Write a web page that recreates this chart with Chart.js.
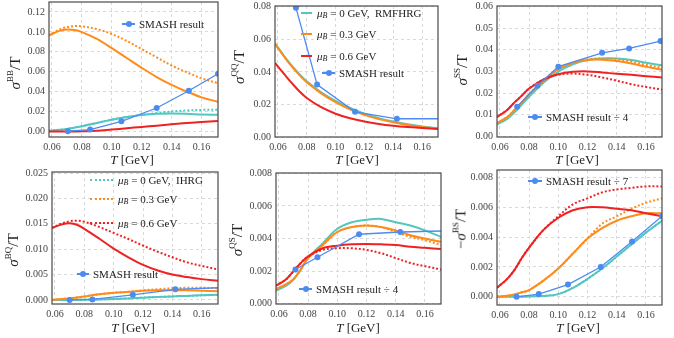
<!DOCTYPE html>
<html>
<head>
<meta charset="utf-8">
<script src="https://cdn.jsdelivr.net/npm/chart.js@4.4.0/dist/chart.umd.min.js"></script>
<style>
  body { margin: 0; background: #fff; width: 674px; height: 338px; position: relative; overflow: hidden;
         font-family: 'Liberation Serif', 'Times New Roman', serif; color: #222; }
  canvas { position: absolute; }
  .yt { position: absolute; transform: translate(-50%, -50%) rotate(-90deg); font-size: 15px; white-space: nowrap; }
  .xt { position: absolute; transform: translate(-50%, -50%); font-size: 13px; white-space: nowrap; }
  .sp { font-size: 9px; position: relative; top: -7px; }
  .lg { position: absolute; transform: translateY(-50%); font-size: 11px; white-space: nowrap; display: flex; align-items: center; }
  .lg sub { font-size: 8px; position: relative; top: 2px; vertical-align: baseline; }
  .ln { display: inline-block; height: 0; border-top-width: 2px; border-top-style: solid; margin-right: 5px; }
  .dt { border-top-style: dotted; }
  .sm { display: inline-block; position: relative; height: 1.5px; background: #4d8bf0; margin-right: 4px; }
  .sm::after { content: ''; position: absolute; left: 50%; top: 50%; width: 6px; height: 6px; border-radius: 50%;
               background: #4d8bf0; transform: translate(-50%, -50%); }
</style>
</head>
<body>
<div id="wrap"></div>

<!-- axis titles -->
<div class="yt" style="left:15px;top:73px"><i>σ</i><span class="sp">BB</span>/T</div>
<div class="yt" style="left:239px;top:67px"><i>σ</i><span class="sp">QQ</span>/T</div>
<div class="yt" style="left:462px;top:70px"><i>σ</i><span class="sp">SS</span>/T</div>
<div class="yt" style="left:13px;top:250px"><i>σ</i><span class="sp">BQ</span>/T</div>
<div class="yt" style="left:237px;top:240px"><i>σ</i><span class="sp">QS</span>/T</div>
<div class="yt" style="left:461px;top:229px">−<i>σ</i><span class="sp">BS</span>/T</div>

<div class="xt" style="left:132px;top:160px"><i>T</i> [GeV]</div>
<div class="xt" style="left:357px;top:160px"><i>T</i> [GeV]</div>
<div class="xt" style="left:577px;top:160px"><i>T</i> [GeV]</div>
<div class="xt" style="left:133px;top:328px"><i>T</i> [GeV]</div>
<div class="xt" style="left:358px;top:328px"><i>T</i> [GeV]</div>
<div class="xt" style="left:578px;top:328px"><i>T</i> [GeV]</div>

<!-- legends -->
<div class="lg" style="left:122px;top:24px"><span class="sm" style="width:13px"></span>SMASH result</div>

<div class="lg" style="left:301px;top:13px"><span class="ln" style="width:11px;border-color:#52c7c0"></span><i>μ</i><sub><i>B</i></sub>&nbsp;= 0 GeV,&nbsp; RMFHRG</div>
<div class="lg" style="left:301px;top:34px"><span class="ln" style="width:11px;border-color:#ff8c1a"></span><i>μ</i><sub><i>B</i></sub>&nbsp;= 0.3 GeV</div>
<div class="lg" style="left:301px;top:56px"><span class="ln" style="width:11px;border-color:#ee2222"></span><i>μ</i><sub><i>B</i></sub>&nbsp;= 0.6 GeV</div>
<div class="lg" style="left:322px;top:73px"><span class="sm" style="width:13px"></span>SMASH result</div>

<div class="lg" style="left:528px;top:117px"><span class="sm" style="width:14px"></span>SMASH result ÷ 4</div>

<div class="lg" style="left:90px;top:180px"><span class="ln dt" style="width:23px;border-color:#52c7c0"></span><i>μ</i><sub><i>B</i></sub>&nbsp;= 0 GeV,&nbsp; IHRG</div>
<div class="lg" style="left:90px;top:199px"><span class="ln dt" style="width:23px;border-color:#ff8c1a"></span><i>μ</i><sub><i>B</i></sub>&nbsp;= 0.3 GeV</div>
<div class="lg" style="left:90px;top:223px"><span class="ln dt" style="width:23px;border-color:#ee2222"></span><i>μ</i><sub><i>B</i></sub>&nbsp;= 0.6 GeV</div>
<div class="lg" style="left:77px;top:274px"><span class="sm" style="width:12px"></span>SMASH result</div>

<div class="lg" style="left:299px;top:289px"><span class="sm" style="width:13px"></span>SMASH result ÷ 4</div>
<div class="lg" style="left:528px;top:181px"><span class="sm" style="width:14px"></span>SMASH result ÷ 7</div>

<script>
// temperature grid of the model curves (GeV)
const T = [0.058, 0.065, 0.07, 0.075, 0.08, 0.09, 0.10, 0.11, 0.12, 0.13, 0.14, 0.15, 0.16, 0.171];
const xTicks = [0.06, 0.08, 0.10, 0.12, 0.14, 0.16];

// sigma_BB / T
const bbCyan      = [0.0007, 0.0017, 0.0026, 0.0039, 0.0053, 0.0086, 0.0119, 0.0145, 0.0165, 0.0178, 0.0181, 0.0178, 0.0171, 0.0168];
const bbCyanDot   = [0.0007, 0.0017, 0.0026, 0.0039, 0.0053, 0.0086, 0.0119, 0.0145, 0.0168, 0.0185, 0.0201, 0.0211, 0.0217, 0.0218];
const bbOrange    = [0.0965, 0.1010, 0.1023, 0.1018, 0.0998, 0.0929, 0.0837, 0.0738, 0.0639, 0.0547, 0.0468, 0.0402, 0.0343, 0.0298];
const bbOrangeDot = [0.0965, 0.1025, 0.1048, 0.1058, 0.1056, 0.1028, 0.0979, 0.0909, 0.0827, 0.0745, 0.0662, 0.0596, 0.0534, 0.0485];
const bbRed       = [0.0000, 0.0000, 0.0000, 0.0001, 0.0002, 0.0007, 0.0020, 0.0033, 0.0046, 0.0059, 0.0072, 0.0086, 0.0096, 0.0106];
const smashBBT = [0.0706, 0.0855, 0.1064, 0.1300, 0.1515, 0.1710];
const smashBB  = [0.0003, 0.0020, 0.0102, 0.0236, 0.0409, 0.0580];
const bbTicks = [0, 0.02, 0.04, 0.06, 0.08, 0.10, 0.12];

// sigma_QQ / T
const qqCyan   = [0.0575, 0.0490, 0.0435, 0.0385, 0.0342, 0.0275, 0.0222, 0.0178, 0.0143, 0.0116, 0.0095, 0.0078, 0.0065, 0.0054];
const qqOrange = [0.0572, 0.0485, 0.0430, 0.0380, 0.0336, 0.0268, 0.0214, 0.0170, 0.0136, 0.0110, 0.0090, 0.0074, 0.0062, 0.0052];
const qqRed    = [0.0455, 0.0380, 0.0328, 0.0280, 0.0240, 0.0183, 0.0143, 0.0115, 0.0095, 0.0080, 0.0069, 0.0061, 0.0055, 0.0049];
const smashQQT = [0.0725, 0.0872, 0.1135, 0.1425, 0.171];
const smashQQ  = [0.0795, 0.0322, 0.0155, 0.0112, 0.0112];
const qqTicks = [0, 0.02, 0.04, 0.06, 0.08];

// sigma_SS / T
const ssCyan      = [0.0055, 0.0081, 0.0111, 0.0147, 0.0183, 0.0249, 0.0299, 0.0333, 0.0353, 0.0360, 0.0360, 0.0353, 0.0340, 0.0328];
const ssOrange    = [0.0061, 0.0089, 0.0122, 0.0157, 0.0195, 0.0257, 0.0310, 0.0340, 0.0353, 0.0354, 0.0348, 0.0336, 0.0322, 0.0307];
const ssOrangeDot = [0.0061, 0.0089, 0.0122, 0.0157, 0.0195, 0.0257, 0.0310, 0.0340, 0.0356, 0.0360, 0.0356, 0.0345, 0.0330, 0.0317];
const ssRed       = [0.0089, 0.0122, 0.0157, 0.0188, 0.0221, 0.0263, 0.0287, 0.0298, 0.0300, 0.0295, 0.0289, 0.0284, 0.0278, 0.0272];
const ssRedDot    = [0.0089, 0.0122, 0.0157, 0.0188, 0.0221, 0.0263, 0.0285, 0.0290, 0.0284, 0.0272, 0.0257, 0.0241, 0.0228, 0.0216];
const smashSST = [0.0718, 0.0857, 0.1000, 0.1300, 0.1485, 0.1700];
const smashSS  = [0.0137, 0.0234, 0.0322, 0.0386, 0.0406, 0.0440];
const ssTicks = [0, 0.01, 0.02, 0.03, 0.04, 0.05, 0.06];

// sigma_BQ / T
const bqCyan      = [0.0000, 0.0000, 0.0000, 0.00002, 0.00005, 0.0001, 0.0002, 0.0003, 0.00045, 0.00058, 0.0007, 0.0008, 0.0009, 0.0010];
const bqOrange    = [0.0000, 0.0002, 0.0003, 0.0005, 0.0007, 0.0011, 0.0014, 0.0016, 0.0018, 0.0019, 0.0019, 0.0019, 0.0018, 0.0017];
const bqOrangeDot = [0.0000, 0.0002, 0.0003, 0.0005, 0.0007, 0.0011, 0.0014, 0.0016, 0.0019, 0.0021, 0.0023, 0.0024, 0.0024, 0.0023];
const bqRed       = [0.0142, 0.0149, 0.0151, 0.0148, 0.0140, 0.0121, 0.0101, 0.0084, 0.0069, 0.0058, 0.0050, 0.0045, 0.0041, 0.0038];
const bqRedDot    = [0.0142, 0.0151, 0.0155, 0.0156, 0.0154, 0.0144, 0.0132, 0.0120, 0.0107, 0.0095, 0.0084, 0.0074, 0.0067, 0.0060];
const smashBQT = [0.0700, 0.0855, 0.1130, 0.1420, 0.171];
const smashBQ  = [0.0000, 0.0001, 0.0010, 0.0021, 0.0024];
const bqTicks = [0, 0.005, 0.010, 0.015, 0.020, 0.025];

// sigma_QS / T
const qsCyan      = [0.0008, 0.0011, 0.0015, 0.0021, 0.0028, 0.0037, 0.0046, 0.0050, 0.00515, 0.0052, 0.0050, 0.0048, 0.0045, 0.0041];
const qsOrange    = [0.0009, 0.0012, 0.0015, 0.0021, 0.0028, 0.0036, 0.0044, 0.0047, 0.0048, 0.0047, 0.0045, 0.0042, 0.0040, 0.0038];
const qsOrangeDot = [0.0009, 0.0012, 0.0015, 0.0021, 0.0028, 0.0036, 0.0044, 0.0047, 0.0048, 0.0047, 0.0044, 0.0041, 0.0039, 0.0036];
const qsRed       = [0.0011, 0.0015, 0.0020, 0.0025, 0.0029, 0.0034, 0.00356, 0.00364, 0.00366, 0.00364, 0.0036, 0.0035, 0.00343, 0.00335];
const qsRedDot    = [0.0011, 0.0015, 0.0020, 0.0025, 0.0029, 0.0033, 0.0034, 0.0034, 0.0033, 0.0031, 0.0028, 0.0025, 0.0023, 0.0021];
const smashQST = [0.0713, 0.0864, 0.1149, 0.1431, 0.171];
const smashQS  = [0.0021, 0.00285, 0.00426, 0.0044, 0.00446];
const qsTicks = [0, 0.002, 0.004, 0.006, 0.008];

// -sigma_BS / T
const bsCyan      = [0.0000, 0.0000, 0.0000, 0.0000, 0.00002, 0.00006, 0.00018, 0.0006, 0.0012, 0.0019, 0.0027, 0.0035, 0.0043, 0.0051];
const bsOrange    = [0.0000, 0.00007, 0.00016, 0.0003, 0.00045, 0.0011, 0.0019, 0.0029, 0.0039, 0.0046, 0.0051, 0.0054, 0.0056, 0.0056];
const bsOrangeDot = [0.0000, 0.00007, 0.00016, 0.0003, 0.00045, 0.0011, 0.0019, 0.0029, 0.0039, 0.0049, 0.0054, 0.0059, 0.0063, 0.0066];
const bsRed       = [0.0006, 0.0012, 0.0018, 0.0026, 0.0033, 0.0045, 0.0053, 0.0058, 0.0060, 0.0060, 0.0059, 0.0058, 0.0056, 0.0054];
const bsRedDot    = [0.0006, 0.0012, 0.0018, 0.0026, 0.0033, 0.0045, 0.0054, 0.0062, 0.0066, 0.0070, 0.0072, 0.0073, 0.0074, 0.0074];
const smashBST = [0.0714, 0.0866, 0.1066, 0.1290, 0.1505, 0.171];
const smashBS  = [0.0000, 0.00018, 0.00082, 0.0020, 0.0037, 0.0054];
const bsTicks = [0, 0.002, 0.004, 0.006, 0.008];

const CYAN = '#52c7c0', ORANGE = '#ff8c1a', RED = '#ee2222', BLUE = '#4d8bf0';

function pts(xs, ys) {
  return xs.map((x, i) => ({ x: x, y: ys[i] }));
}
function solid(color, ys) {
  return { data: pts(T, ys), borderColor: color, borderWidth: 2, pointRadius: 0, tension: 0.35 };
}
function dotted(color, ys) {
  var d = solid(color, ys);
  d.borderDash = [2, 2];
  return d;
}
function smash(xs, ys, lastDot) {
  var r = xs.map((x, i) => (i == xs.length - 1 && !lastDot) ? 0 : 3);
  return { data: pts(xs, ys), borderColor: BLUE, backgroundColor: BLUE, borderWidth: 1.3,
           pointRadius: r, pointBorderWidth: 0, pointBackgroundColor: BLUE, tension: 0 };
}

const frame = {
  id: 'frame',
  afterDraw(chart) {
    var a = chart.chartArea, c = chart.ctx;
    c.save();
    c.strokeStyle = '#4a4a4a';
    c.lineWidth = 1.2;
    c.strokeRect(a.left, a.top, a.right - a.left, a.bottom - a.top);
    c.restore();
  }
};

// box = [left, top, right, bottom] of the plot frame in page pixels
function panel(box, yMin, yMax, yTicks, yDec, datasets) {
  var cv = document.createElement('canvas');
  var padT = 8, padR = 8, yw = 50, xh = 22;
  cv.width = box[2] - box[0] + yw + padR;
  cv.height = box[3] - box[1] + padT + xh;
  cv.style.left = (box[0] - yw) + 'px';
  cv.style.top = (box[1] - padT) + 'px';
  document.getElementById('wrap').appendChild(cv);

  var tickFont = { family: "'Liberation Serif', serif", size: 10 };
  new Chart(cv.getContext('2d'), {
    type: 'line',
    data: { datasets: datasets },
    options: {
      responsive: false,
      animation: false,
      devicePixelRatio: 1,
      layout: { padding: { top: padT, right: padR, left: 0, bottom: 0 } },
      plugins: { legend: { display: false }, tooltip: { enabled: false } },
      scales: {
        x: {
          type: 'linear', min: 0.058, max: 0.171,
          afterBuildTicks: s => { s.ticks = xTicks.map(v => ({ value: v })); },
          afterFit: s => { s.height = xh; },
          grid: { color: '#d9d9d9', drawTicks: false },
          border: { display: false, dash: [3, 3] },
          ticks: { color: '#444', font: tickFont, padding: 4, maxRotation: 0,
                   callback: v => v.toFixed(2) }
        },
        y: {
          type: 'linear', min: yMin, max: yMax,
          afterBuildTicks: s => { s.ticks = yTicks.map(v => ({ value: v })); },
          afterFit: s => { s.width = yw; },
          grid: { color: '#d9d9d9', drawTicks: false },
          border: { display: false, dash: [3, 3] },
          ticks: { color: '#444', font: tickFont, padding: 4,
                   callback: v => v.toFixed(yDec) }
        }
      }
    },
    plugins: [frame]
  });
}

panel([49, 0, 218, 137], -0.0055, 0.13, bbTicks, 2, [
  smash(smashBBT, smashBB, true),
  solid(RED, bbRed),
  dotted(ORANGE, bbOrangeDot),
  solid(ORANGE, bbOrange),
  dotted(CYAN, bbCyanDot),
  solid(CYAN, bbCyan)
]);

panel([275, 4, 438, 137], 0, 0.0805, qqTicks, 2, [
  smash(smashQQT, smashQQ, false),
  solid(RED, qqRed),
  solid(ORANGE, qqOrange),
  solid(CYAN, qqCyan)
]);

panel([497, 4, 662, 137], -0.0003, 0.0602, ssTicks, 2, [
  smash(smashSST, smashSS, true),
  dotted(RED, ssRedDot),
  solid(RED, ssRed),
  dotted(ORANGE, ssOrangeDot),
  solid(ORANGE, ssOrange),
  solid(CYAN, ssCyan)
]);

panel([52, 170, 218, 304], -0.0008, 0.0252, bqTicks, 3, [
  smash(smashBQT, smashBQ, false),
  dotted(RED, bqRedDot),
  solid(RED, bqRed),
  dotted(ORANGE, bqOrangeDot),
  solid(ORANGE, bqOrange),
  dotted(CYAN, bqCyan),
  solid(CYAN, bqCyan)
]);

panel([276, 171, 441, 304], -0.00002, 0.00802, qsTicks, 3, [
  smash(smashQST, smashQS, false),
  dotted(RED, qsRedDot),
  solid(RED, qsRed),
  dotted(ORANGE, qsOrangeDot),
  solid(ORANGE, qsOrange),
  solid(CYAN, qsCyan)
]);

panel([497, 168, 662, 305], -0.00055, 0.0085, bsTicks, 3, [
  smash(smashBST, smashBS, true),
  dotted(RED, bsRedDot),
  solid(RED, bsRed),
  dotted(ORANGE, bsOrangeDot),
  solid(ORANGE, bsOrange),
  dotted(CYAN, bsCyan),
  solid(CYAN, bsCyan)
]);
</script>
</body>
</html>
